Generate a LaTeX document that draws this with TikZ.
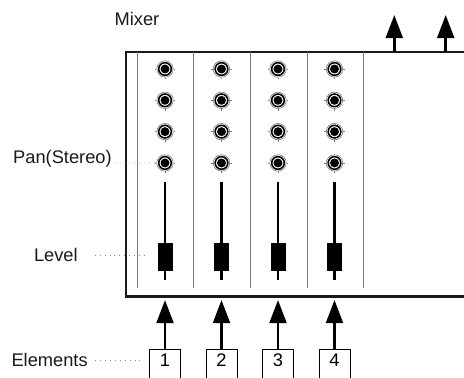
\documentclass[tikz,border=0pt]{standalone}
\usepackage{fontspec}
\setmainfont{Liberation Sans}
\usepackage{tikz}
\usetikzlibrary{arrows.meta}
\definecolor{inkc}{HTML}{1A1A1A}
\definecolor{rulec}{HTML}{7A7A7A}
\definecolor{dotc}{HTML}{8C8C8C}

\begin{document}
\begin{tikzpicture}[x=1cm,y=1cm,font=\fontsize{13}{15}\selectfont,
    frame/.style={line width=1.5pt,inkc},
    divider/.style={rulec,line width=0.7pt},
    knob/.style={circle,draw=rulec,line width=0.45pt,minimum size=0.41cm,inner sep=0pt},
    track/.style={line width=2.1pt},
    fadercap/.style={fill=black,minimum width=0.375cm,minimum height=0.71cm,inner sep=0pt},
    feed/.style={line width=2.1pt,-{Triangle[length=0.58cm,width=0.42cm]}},
    leader/.style={dotc,line width=0.6pt,dash pattern=on 0.6pt off 2.9pt},
    elembox/.style={draw,line width=0.6pt,minimum width=0.775cm,inner sep=0pt,text height=0.435cm,text depth=0.465cm,anchor=base},
    tag/.style={text=inkc,inner sep=0pt}]
        \useasboundingbox (0,0) rectangle (11.6,9.425);
        \draw[frame] (11.8,8.125) -- (3.15,8.125) -- (3.15,2.0125) -- (11.8,2.0125);
        \foreach \x in {3.425,4.825,6.25,7.675,9.075}
          \draw[divider] (\x,8.125) -- (\x,2.225);
        \foreach \i in {1,...,4} {
          \pgfmathsetmacro{\cx}{4.125+(\i-1)*1.4125}
          \foreach \j in {1,...,4} {
            \pgfmathsetmacro{\cy}{7.7-(\j-1)*0.783}
            \node[knob] (k\i\j) at (\cx,\cy) {};
            \draw[line width=1.1pt] (k\i\j) circle (0.158);
            \fill (k\i\j) circle (0.112);
            \foreach \a in {0,180,270}
              \draw[rulec,line width=0.45pt] (k\i\j.\a) -- ++(\a:0.045);
          }
          \draw[track] (\cx,4.875) -- (\cx,2.425);
          \node[fadercap] (f\i) at (\cx,2.995) {};
          \node[elembox] (e\i) at (\cx,0.265) {\i};
          \coordinate (in\i) at (\cx,1.925);
          \draw[feed] (e\i.north) -- (in\i);
        }
        \coordinate (ob1) at (9.8575,8.125);
        \coordinate (ot1) at (9.8575,9.05);
        \coordinate (ob2) at (11.1425,8.125);
        \coordinate (ot2) at (11.1425,9.05);
        \draw[feed] (ob1) -- (ot1);
        \draw[feed] (ob2) -- (ot2);
        \node[tag] (mix) at (3.425,8.9625) {Mixer};
        \node[tag,anchor=base east] (pan) at (2.8,5.35) {Pan(Stereo)};
        \node[tag,anchor=east] (lvl) at (1.95,3.05) {Level};
        \node[tag,anchor=east] (elem) at (2.2,0.425) {Elements};
        \draw[leader] ([xshift=2pt]pan.base east) -- (k14.west);
        \draw[leader] ([xshift=0.42cm]lvl.east) -- ([xshift=-0.24cm]f1.west |- lvl.east);
        \draw[leader] ([xshift=0.18cm]elem.east) -- ([xshift=-0.16cm]e1.west |- elem.east);
      \end{tikzpicture}
\end{document}
